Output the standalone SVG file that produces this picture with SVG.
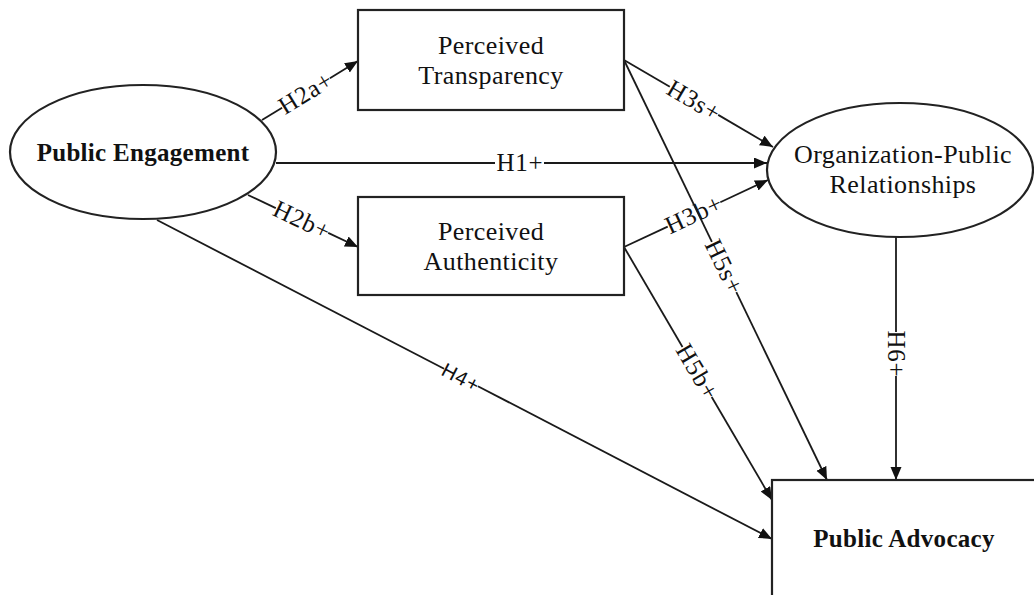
<svg xmlns="http://www.w3.org/2000/svg" width="1034" height="595" viewBox="0 0 1034 595">
  <defs>
    <marker id="arrow" markerUnits="userSpaceOnUse" markerWidth="14" markerHeight="12" refX="13" refY="5.5" orient="auto">
      <path d="M0,0 L13,5.5 L0,11 Z" fill="#111"/>
    </marker>
  </defs>
  <style>
    .node { fill: #fff; stroke: #222; stroke-width: 2.2; }
    .lbl { font-family: "Liberation Serif", "Times New Roman", serif; font-size: 26px; fill: #111; text-anchor: middle; letter-spacing: 0.4px; }
    .bold { font-size: 25px; font-weight: bold; letter-spacing: 0.3px; }
    .edge { fill: none; stroke: #1a1a1a; stroke-width: 1.8; }
    .hyp { font-family: "Liberation Serif", "Times New Roman", serif; font-size: 25px; fill: #111; text-anchor: middle; letter-spacing: 0.8px; }
    .hyp-sans { font-family: "Liberation Sans", Arial, sans-serif; font-size: 20px; fill: #111; text-anchor: middle; letter-spacing: 1px; }
  </style>
  <rect width="1034" height="595" fill="#fff"/>

  <!-- connectors: each labelled path is split around its label -->
  <g id="connectors">
    <!-- H2a+ -->
    <line class="edge" x1="262" y1="120" x2="282.1" y2="107.7"/>
    <line class="edge" x1="329.9" y1="78.3" x2="358" y2="61" marker-end="url(#arrow)"/>
    <text class="hyp" transform="translate(306 93) rotate(-31.58)" x="0" y="8">H2a+</text>
    <!-- H2b+ -->
    <line class="edge" x1="248" y1="195" x2="275.8" y2="208.1"/>
    <line class="edge" x1="328.2" y1="232.9" x2="358" y2="247" marker-end="url(#arrow)"/>
    <text class="hyp" transform="translate(302 220.5) rotate(25.3)" x="0" y="8">H2b+</text>
    <!-- H1+ -->
    <line class="edge" x1="276" y1="163" x2="495" y2="163"/>
    <line class="edge" x1="544" y1="163" x2="767" y2="163" marker-end="url(#arrow)"/>
    <text class="hyp" x="520" y="171">H1+</text>
    <!-- H4+ -->
    <line class="edge" x1="157" y1="220" x2="444.1" y2="368.8"/>
    <line class="edge" x1="477.9" y1="386.2" x2="772" y2="539" marker-end="url(#arrow)"/>
    <text class="hyp-sans" transform="translate(461 377.5) rotate(27.42)" x="0" y="7">H4+</text>
    <!-- H3s+ -->
    <line class="edge" x1="624" y1="60" x2="669.8" y2="86.7"/>
    <line class="edge" x1="718.2" y1="114.9" x2="773" y2="147" marker-end="url(#arrow)"/>
    <text class="hyp" transform="translate(694 100.8) rotate(30.28)" x="0" y="8">H3s+</text>
    <!-- H3b+ -->
    <line class="edge" x1="624" y1="247" x2="667.7" y2="226.6"/>
    <line class="edge" x1="720.3" y1="202.2" x2="768" y2="180" marker-end="url(#arrow)"/>
    <text class="hyp" transform="translate(694 214.4) rotate(-24.95)" x="0" y="8">H3b+</text>
    <!-- H5s+ -->
    <line class="edge" x1="624" y1="60" x2="711.9" y2="241.8"/>
    <line class="edge" x1="736.3" y1="292.2" x2="827" y2="480" marker-end="url(#arrow)"/>
    <text class="hyp" transform="translate(724.1 267) rotate(64.2)" x="0" y="8">H5s+</text>
    <!-- H5b+ -->
    <line class="edge" x1="624" y1="247" x2="682.5" y2="347"/>
    <line class="edge" x1="711.7" y1="397" x2="772" y2="500" marker-end="url(#arrow)"/>
    <text class="hyp" transform="translate(697.1 372) rotate(59.67)" x="0" y="8">H5b+</text>
    <!-- H6+ -->
    <line class="edge" x1="896" y1="237" x2="896" y2="332"/>
    <line class="edge" x1="896" y1="376" x2="896" y2="480" marker-end="url(#arrow)"/>
    <text class="hyp" transform="translate(896 354) rotate(90)" x="0" y="8">H6+</text>
  </g>

  <g id="public-engagement">
    <ellipse class="node" cx="143" cy="152" rx="133" ry="67"/>
    <text class="lbl bold" x="143" y="161">Public Engagement</text>
  </g>

  <g id="perceived-transparency">
    <rect class="node" x="358" y="10" width="266" height="100"/>
    <text class="lbl" x="491" y="54">Perceived</text>
    <text class="lbl" x="491" y="84">Transparency</text>
  </g>

  <g id="perceived-authenticity">
    <rect class="node" x="358" y="197" width="266" height="98"/>
    <text class="lbl" x="491" y="240">Perceived</text>
    <text class="lbl" x="491" y="270">Authenticity</text>
  </g>

  <g id="organization-public-relationships">
    <ellipse class="node" cx="900" cy="170" rx="133" ry="67"/>
    <text class="lbl" x="903" y="163">Organization-Public</text>
    <text class="lbl" x="903" y="193">Relationships</text>
  </g>

  <g id="public-advocacy">
    <rect class="node" x="772" y="480" width="300" height="150"/>
    <text class="lbl bold" x="904" y="547">Public Advocacy</text>
  </g>
</svg>
